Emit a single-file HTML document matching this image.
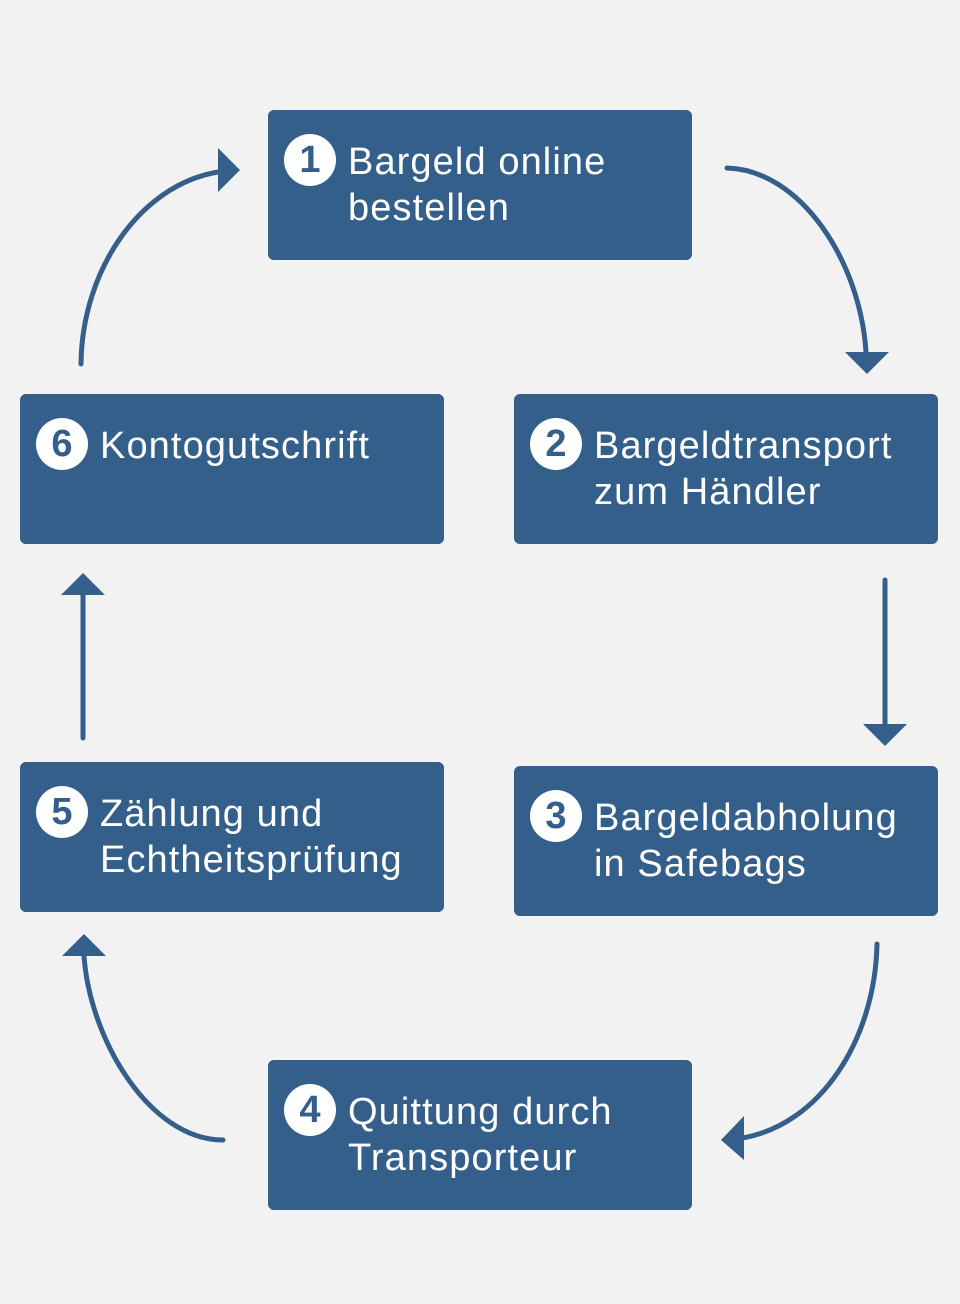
<!DOCTYPE html>
<html><head><meta charset="utf-8"><style>
body{margin:0;width:960px;height:1304px;background:#f2f2f2;position:relative;font-family:"Liberation Sans",sans-serif;overflow:hidden}
.b{position:absolute;width:424px;height:150px;background:#335f8a;border-radius:6px;color:#fff}
.c{position:absolute;left:16px;top:24px;width:52px;height:52px;border-radius:50%;background:#fff;color:#335f8a;font-weight:bold;font-size:38px;line-height:52px;text-align:center}
.t{position:absolute;left:80px;top:29px;font-size:38px;line-height:46px;letter-spacing:1.1px;white-space:nowrap}
</style></head><body>
<svg width="960" height="1304" style="position:absolute;left:0;top:0">
<g fill="none" stroke="#335f8a" stroke-width="5" stroke-linecap="round">
<path d="M727,168 C800,170 860,260 866,352"/>
<path d="M885,580 L885,724"/>
<path d="M877,944 C875,1040 820,1125 742,1138"/>
<path d="M223,1140 C150,1140 90,1040 84,956"/>
<path d="M83,738 L83,595"/>
<path d="M81,364 C82,270 140,185 218,172"/>
</g>
<g fill="#335f8a">
<polygon points="845,352 889,352 867,374"/>
<polygon points="863,724 907,724 885,746"/>
<polygon points="744,1116 744,1160 721,1140"/>
<polygon points="62,956 106,956 84,934"/>
<polygon points="61,595 105,595 83,573"/>
<polygon points="218,148 218,192 240,170"/>
</g>
</svg>
<div class="b" style="left:268px;top:110px"><div class="c">1</div><div class="t">Bargeld online<br>bestellen</div></div>
<div class="b" style="left:514px;top:394px"><div class="c">2</div><div class="t">Bargeldtransport<br>zum Händler</div></div>
<div class="b" style="left:20px;top:394px"><div class="c">6</div><div class="t">Kontogutschrift</div></div>
<div class="b" style="left:20px;top:762px"><div class="c">5</div><div class="t">Zählung und<br>Echtheitsprüfung</div></div>
<div class="b" style="left:514px;top:766px"><div class="c">3</div><div class="t">Bargeldabholung<br>in Safebags</div></div>
<div class="b" style="left:268px;top:1060px"><div class="c">4</div><div class="t">Quittung durch<br>Transporteur</div></div>
</body></html>
